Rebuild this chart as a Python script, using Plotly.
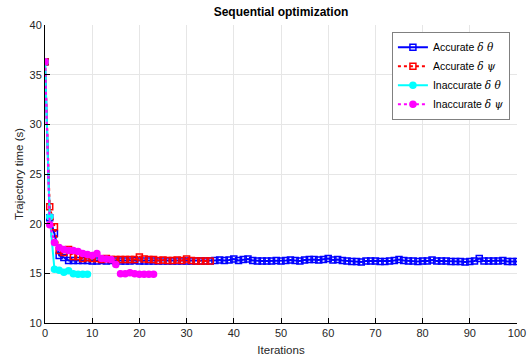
import plotly.graph_objects as go

# Trajectory time per iteration for each optimization variant
acc_theta = [36.3, 20.6, 19.0, 16.8, 16.6, 16.3, 16.3, 16.3, 16.3, 16.3,
             16.25, 16.25, 16.3, 16.25, 16.3, 16.25, 16.25, 16.25, 16.25, 16.3,
             16.25, 16.25, 16.25, 16.25, 16.25, 16.25, 16.25, 16.25, 16.25, 16.25,
             16.25, 16.25, 16.25, 16.25, 16.25, 16.25, 16.3, 16.35, 16.3, 16.35,
             16.45, 16.3, 16.4, 16.45, 16.3, 16.25, 16.25, 16.25, 16.25, 16.3,
             16.25, 16.3, 16.35, 16.3, 16.25, 16.35, 16.4, 16.4, 16.35, 16.4,
             16.5, 16.35, 16.4, 16.3, 16.25, 16.2, 16.2, 16.15, 16.25, 16.25,
             16.25, 16.2, 16.2, 16.25, 16.3, 16.4, 16.3, 16.25, 16.25, 16.2,
             16.25, 16.25, 16.35, 16.25, 16.25, 16.25, 16.2, 16.2, 16.2, 16.15,
             16.2, 16.25, 16.5, 16.25, 16.25, 16.25, 16.25, 16.3, 16.2, 16.2,
             16.2]
acc_psi = [36.3, 21.7, 19.7, 17.3, 17.1, 17.4, 16.7, 16.7, 16.5, 16.6,
           16.5, 16.5, 16.4, 16.5, 16.4, 16.4, 16.4, 16.4, 16.4, 16.4,
           16.65, 16.45, 16.4, 16.4, 16.3, 16.35, 16.3, 16.3, 16.35, 16.3,
           16.45, 16.3, 16.25, 16.25, 16.25, 16.25]
inacc_theta = [36.3, 20.7, 15.4, 15.3, 15.1, 15.25, 14.95, 14.9, 14.9, 14.9]
inacc_psi = [36.3, 19.9, 18.1, 17.6, 17.4, 17.3, 17.3, 17.2, 17.0, 16.9,
             16.8, 17.0, 16.5, 16.45, 16.4, 15.9, 14.95, 14.95, 15.05, 14.95,
             14.9, 14.9, 14.9, 14.9]

GREEK = "font-family:'DejaVu Serif';font-style:italic"
names = [
    f"Accurate <span style=\"{GREEK}\">δ θ</span>",
    f"Accurate <span style=\"{GREEK}\">δ ψ</span>",
    f"Inaccurate <span style=\"{GREEK}\">δ θ</span>",
    f"Inaccurate <span style=\"{GREEK}\">δ ψ</span>",
]

series = [
    (acc_theta, "#0000FF", "solid", "square-open", 6),
    (acc_psi, "#FF0000", "dot", "square-open", 6),
    (inacc_theta, "#00FFFF", "solid", "circle", 6),
    (inacc_psi, "#FF00FF", "dot", "circle", 6),
]

fig = go.Figure()
for (vals, color, dash, symbol, size), name in zip(series, names):
    fig.add_trace(go.Scatter(
        x=list(range(len(vals))), y=vals, name=name,
        mode="lines+markers",
        line=dict(color=color, width=2, dash=dash),
        marker=dict(symbol=symbol, size=size, color=color,
                    line=dict(color=color, width=1.5)),
    ))

FONT = "Liberation Sans, Arial"
axis_common = dict(
    automargin=False,
    showline=True, linecolor="black", linewidth=1,
    ticks="inside", ticklen=5, tickcolor="black",
    showgrid=True, gridcolor="#E6E6E6", gridwidth=1,
    zeroline=False, mirror=False,
    tickfont=dict(family=FONT, size=11, color="#262626"),
)

fig.update_layout(
    width=529, height=358,
    margin=dict(l=45, r=12, t=25, b=35, autoexpand=False),
    paper_bgcolor="white", plot_bgcolor="white",
    title=dict(text="<b>Sequential optimization</b>", x=0.5, xanchor="center",
               xref="paper", y=1 - 12 / 358, yanchor="middle",
               automargin=False,
               font=dict(family=FONT, size=12, color="black")),
    xaxis=dict(range=[0, 100], tickvals=list(range(0, 101, 10)),
               title=dict(text="Iterations", standoff=7,
                          font=dict(family=FONT, size=11.5, color="#262626")),
               **axis_common),
    yaxis=dict(range=[10, 40], tickvals=list(range(10, 41, 5)),
               title=dict(text="Trajectory time (s)", standoff=3,
                          font=dict(family=FONT, size=11.5, color="#262626")),
               **axis_common),
    legend=dict(x=0.985, y=0.977, xanchor="right", yanchor="top",
                bgcolor="white", bordercolor="#808080", borderwidth=1,
                font=dict(family=FONT, size=10.5, color="black"),
                itemwidth=30, tracegroupgap=0),
    showlegend=True,
)

fig.write_html("out.html")
